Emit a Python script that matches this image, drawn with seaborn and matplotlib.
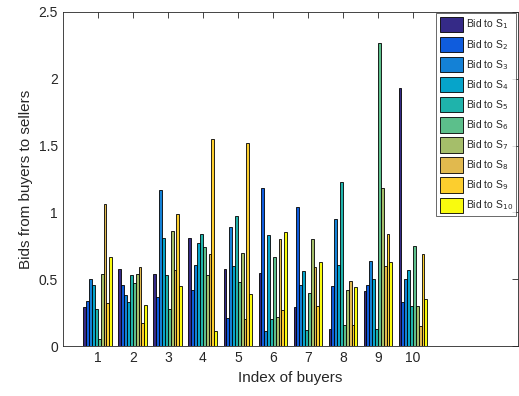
import matplotlib
matplotlib.use("Agg")
import matplotlib.pyplot as plt
import pandas as pd
import seaborn as sns

# buyers (x categories)
buyers = [str(i) for i in range(1, 11)]

# bids from each buyer to seller S1..S10 (one list per seller)
bid_s1 = [0.29, 0.58, 0.54, 0.81, 0.58, 0.55, 0.29, 0.13, 0.41, 1.93]
bid_s2 = [0.34, 0.46, 0.37, 0.42, 0.21, 1.18, 1.04, 0.45, 0.46, 0.33]
bid_s3 = [0.50, 0.38, 1.17, 0.61, 0.89, 0.11, 0.46, 0.95, 0.64, 0.50]
bid_s4 = [0.46, 0.33, 0.81, 0.77, 0.60, 0.83, 0.56, 0.61, 0.50, 0.57]
bid_s5 = [0.28, 0.53, 0.53, 0.84, 0.97, 0.20, 0.12, 1.23, 0.13, 0.30]
bid_s6 = [0.05, 0.47, 0.28, 0.74, 0.48, 0.67, 0.40, 0.16, 2.27, 0.75]
bid_s7 = [0.54, 0.54, 0.86, 0.53, 0.70, 0.22, 0.80, 0.42, 1.18, 0.30]
bid_s8 = [1.06, 0.59, 0.57, 0.69, 0.20, 0.80, 0.59, 0.49, 0.60, 0.15]
bid_s9 = [0.32, 0.17, 0.99, 1.55, 1.52, 0.27, 0.30, 0.16, 0.84, 0.69]
bid_s10 = [0.67, 0.31, 0.45, 0.11, 0.39, 0.85, 0.63, 0.44, 0.63, 0.35]

sellers = [f"Bid to S$_{{{k}}}$" for k in range(1, 11)]
bids = [bid_s1, bid_s2, bid_s3, bid_s4, bid_s5, bid_s6, bid_s7, bid_s8, bid_s9, bid_s10]

# parula-like colours
colores = ["#352a87", "#0f5cdd", "#1481d6", "#06a4ca", "#1fb3ab",
           "#5cbf8b", "#a5be6a", "#e1b94e", "#fcce2e", "#f9fb0e"]

linhas = []
for s, vals in zip(sellers, bids):
    for b, v in zip(buyers, vals):
        linhas.append({"Buyer": b, "Seller": s, "Bid": v})
df = pd.DataFrame(linhas)

sns.set_style("white")
plt.rcParams['font.family'] = ['Liberation Sans', 'DejaVu Sans']

fig = plt.figure(figsize=(5.19, 3.96), dpi=100)
ax = fig.add_axes([0.121, 0.126, 0.877, 0.844])

sns.barplot(data=df, x="Buyer", y="Bid", hue="Seller", order=buyers,
            hue_order=sellers, palette=colores, width=0.82,
            edgecolor="black", linewidth=0.6, saturation=1, ax=ax)

ax.set_xlim(-1, 12)
ax.set_ylim(0, 2.5)
ax.set_yticks([0, 0.5, 1, 1.5, 2, 2.5])
ax.set_yticklabels(["0", "0.5", "1", "1.5", "2", "2.5"])
ax.set_xlabel("Index of buyers", fontsize=11, color="#262626")
ax.set_ylabel("Bids from buyers to sellers", fontsize=11, color="#262626")
ax.tick_params(direction="in", length=4, top=True, right=True,
               labelsize=10, colors="#262626", width=0.6)
for sp in ax.spines.values():
    sp.set_visible(True)
    sp.set_color("#262626")
    sp.set_linewidth(0.6)

leg = ax.legend(loc="upper right", fontsize=7.5, frameon=True, fancybox=False,
                edgecolor="#262626", borderaxespad=0.15, handlelength=2.3,
                handleheight=1.9, labelspacing=0.45, handletextpad=0.25,
                borderpad=0.3)
leg.get_frame().set_linewidth(0.6)

plt.savefig("out.png", dpi=100)
